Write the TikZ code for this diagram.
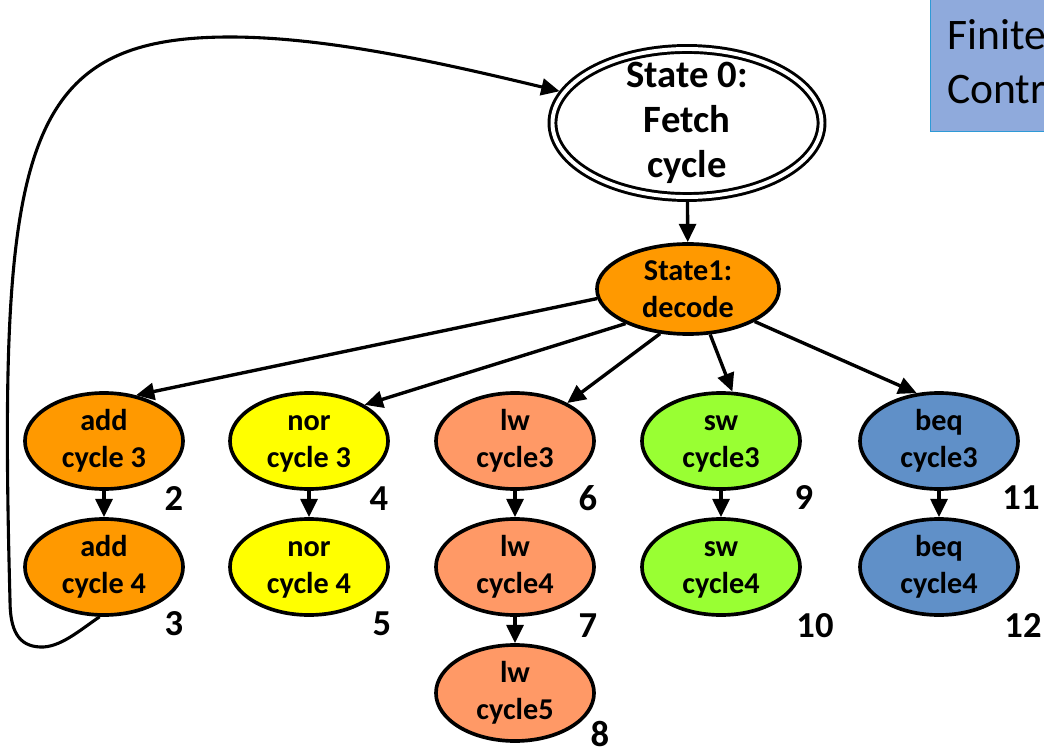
\documentclass[tikz,border=0pt]{standalone}
\usepackage{fontspec}
\setmainfont{Carlito}
\usetikzlibrary{arrows.meta,shapes.geometric}
\definecolor{orng}{HTML}{FF9900}
\definecolor{ylw}{HTML}{FFFF00}
\definecolor{slmn}{HTML}{FF9966}
\definecolor{lgrn}{HTML}{99FF33}
\definecolor{bblue}{HTML}{6090C8}
\definecolor{boxfill}{HTML}{8FAADC}
\definecolor{boxline}{HTML}{2E9AD6}

\begin{document}
\begin{tikzpicture}[
        x=0.025cm, y=-0.025cm,
        st/.style={ellipse, draw, line width=2.6pt, inner sep=0pt, align=center,
            minimum width=3.95cm, minimum height=2.4cm,
            font=\fontsize{21.5}{26.3}\selectfont\bfseries},
        num/.style={inner sep=0pt, font=\fontsize{26}{30}\selectfont\bfseries},
        arr/.style={line width=2.4pt, -{Triangle[length=13pt,width=12pt]}},
        ]
        \useasboundingbox (0,0) rectangle (1044,753);
        \clip (0,0) rectangle (1044,753);

        % fetch and decode
        \node[st, fill=white, line width=2.1pt, double=white, double distance=2.8pt,
            outer sep=3.4pt, inner ysep=-8pt, minimum width=6.725cm, minimum height=3.7cm,
            font=\fontsize{27.5}{32}\selectfont\bfseries]
            (fetch) at (687,123) {State 0:\\Fetch\\cycle};
        \node[st, fill=orng, inner ysep=-1.5pt, minimum width=4.55cm, minimum height=2.25cm]
            (dec) at (688,289) {State1:\\decode};

        \foreach \nm / \px / \py / \fc / \op / \cyc in {
            add3/104/441/orng/add/cycle 3, add4/104/567/orng/add/cycle 4, % add
            nor3/309/441/ylw/nor/cycle 3, nor4/309/567/ylw/nor/cycle 4, % nor
            lw3/515/441/slmn/lw/cycle3, lw4/515/567/slmn/lw/cycle4, lw5/515/693/slmn/lw/cycle5, % lw
            sw3/721/441/lgrn/sw/cycle3, sw4/721/567/lgrn/sw/cycle4, % sw
            beq3/939/441/bblue/beq/cycle3, beq4/939/567/bblue/beq/cycle4 % beq
        }
        {
            \node[st, fill=\fc] (\nm) at (\px,\py) {\vphantom{d}\op\\\cyc};
        }
        \foreach \lab / \px / \py in {
            2/174/499, 3/174/624,
            4/379/499, 5/382/624,
            6/588/498, 7/588/626, 8/600/734,
            9/804/498, 10/815/626,
            11/1021/498, 12/1023/626
        }
        {
            \node[num] (num\lab) at (\px,\py) {\lab};
        }

        \draw[arr] (fetch) -- (dec);
        \draw[arr] (dec.186) -- (add3.55);
        \draw[arr] (dec.209) -- (nor3.33);
        \draw[arr] (dec.238) -- (lw3.36);
        \draw[arr] (dec.-64) -- (sw3.77);
        \draw[arr] (dec.-26) -- (beq3.115);
        \foreach \a / \b in {add3/add4, nor3/nor4, lw3/lw4, lw4/lw5, sw3/sw4, beq3/beq4}
        {
            \draw[arr] (\a) -- (\b);
        }

        % back to fetch
        \draw[arr, line width=2.2pt] (add4.-95) .. controls (80,630) and (60,648) .. (40,647)
            .. controls (18,646) and (10,630) .. (10,600)
            .. controls (-2,150) and (20,37) .. (230,37)
            .. controls (330,37) and (450,65) .. (fetch.166);

        % box at the top right
        \node[draw=boxline, fill=boxfill, line width=1pt, anchor=north west,
            minimum width=4cm, minimum height=3.775cm] (fsc) at (929.5,-20) {};
        \node[anchor=north west, inner sep=0pt, align=left,
            font=\fontsize{31}{38.4}\selectfont] (fsctext) at (947,19) {Finite\\Control};

    \end{tikzpicture}
\end{document}
